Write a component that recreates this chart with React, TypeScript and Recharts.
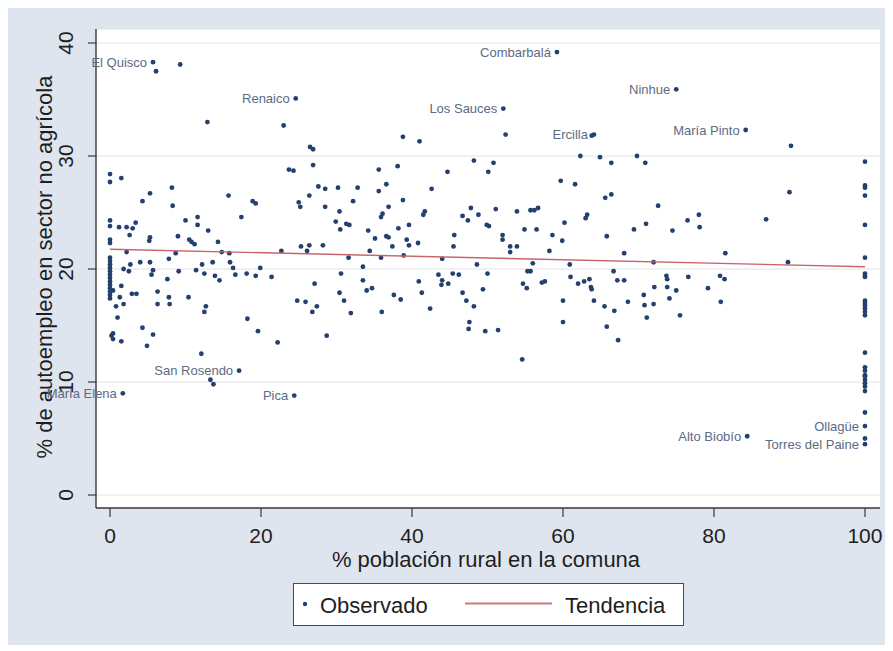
import React from 'react';
import { ScatterChart, Scatter, XAxis, YAxis, CartesianGrid, Legend, LabelList, Label } from 'recharts';

// ---- data (x = % población rural, y = % autoempleo en sector no agrícola) ----
const X_TICKS = [0, 20, 40, 60, 80, 100];
const Y_TICKS = [0, 10, 20, 30, 40];

const LABEL_NAMES = ['El Quisco', 'Combarbalá', 'Renaico', 'Los Sauces', 'Ninhue', 'Ercilla', 'María Pinto', 'San Rosendo', 'María Elena', 'Pica', 'Alto Biobío', 'Ollagüe', 'Torres del Paine'];
const LABEL_X = [5.7, 59.2, 24.6, 52.1, 75.0, 64.1, 84.2, 17.1, 1.7, 24.4, 84.4, 100, 100];
const LABEL_Y = [38.3, 39.2, 35.1, 34.2, 35.9, 31.9, 32.3, 11.0, 9.0, 8.8, 5.2, 6.1, 4.5];

const OBS_TOP: [number, number][] = [
  [6.1, 37.5], [9.3, 38.1], [12.9, 33.0], [23.0, 32.7], [38.8, 31.7], [41.0, 31.3], [26.5, 30.8], [26.9, 30.6],
  [52.4, 31.9], [63.8, 31.8], [90.2, 30.9], [13.3, 10.2], [13.7, 9.8],
];

const OBS_URBAN_EDGE_Y = [28.4, 27.7, 24.3, 23.8, 22.6, 22.3, 21.0, 20.7, 20.4, 20.1, 19.8, 19.5, 19.2, 18.9, 18.6, 18.3, 18.0, 17.7, 17.4];
const OBS_RURAL_EDGE_Y = [29.5, 27.4, 27.2, 26.5, 23.9, 21.0, 19.6, 19.4, 19.3, 17.2, 17.0, 16.8, 16.5, 16.2, 15.9, 12.6, 11.3, 11.0, 10.6, 10.5, 10.2, 9.9, 9.6, 9.2, 7.3, 5.0];

const OBS_LEFT: [number, number][] = [
  [1.5, 28.05], [4.3, 26.0], [5.3, 26.7], [8.2, 27.2], [8.3, 25.6], [15.7, 26.5], [18.9, 26.0], [19.3, 25.8], [17.4, 24.6],
  [23.7, 28.8], [24.3, 28.7], [26.9, 29.2], [25.0, 25.9], [25.2, 25.5], [26.4, 26.5], [27.6, 27.3], [28.5, 27.1], [28.5, 25.5],
  [30.2, 27.2], [30.4, 25.1], [29.9, 24.2], [30.5, 23.5], [31.3, 24.0], [31.7, 23.9], [32.2, 26.0], [32.8, 27.2], [35.6, 28.8],
  [35.6, 26.9], [36.6, 27.5], [38.1, 29.1], [38.8, 26.1], [36.9, 25.5], [36.1, 24.9], [35.9, 24.6], [42.6, 27.1], [44.7, 28.6],
  [48.2, 29.6], [50.1, 28.6], [41.7, 25.1], [41.5, 24.8], [46.7, 24.7], [47.8, 25.4], [47.4, 24.3], [48.8, 24.8], [49.9, 23.9],
  [10.0, 24.3], [11.6, 24.6], [11.6, 23.9], [13.0, 23.4], [1.2, 23.7], [2.2, 23.7], [3.0, 23.6], [3.4, 24.1], [2.6, 23.0],
  [5.3, 22.8], [5.2, 22.5], [9.0, 22.9], [10.5, 22.6], [10.8, 22.4], [11.2, 22.2], [14.3, 22.4], [2.2, 21.5], [8.7, 21.4],
  [7.8, 20.9], [4.0, 20.6], [5.3, 20.6], [2.7, 20.4], [1.8, 20.0], [2.5, 19.8], [5.7, 19.9], [5.5, 19.5], [7.6, 19.1],
  [9.1, 19.8], [11.4, 19.9], [12.2, 20.4], [12.5, 19.6], [13.6, 20.6], [13.9, 19.4], [14.5, 19.0], [14.8, 21.5], [15.8, 21.4],
  [15.9, 20.6], [16.3, 20.1], [16.6, 19.5], [18.1, 19.6], [19.3, 19.4], [19.9, 20.1], [21.4, 19.3], [22.7, 21.6], [25.3, 22.0],
  [26.4, 22.1], [26.1, 21.6], [28.2, 22.1], [31.6, 21.0], [34.4, 21.6], [35.9, 21.0], [35.1, 22.7], [34.2, 23.4], [36.6, 22.9],
  [36.9, 22.8], [37.4, 22.0], [38.2, 23.6], [39.6, 23.9], [39.3, 22.6], [39.6, 22.1], [40.8, 22.3], [38.9, 21.2], [45.6, 23.0],
  [45.5, 22.0], [44.0, 20.9], [50.2, 23.8], [48.6, 20.4], [30.6, 19.6], [33.5, 20.2], [33.5, 19.0], [34.0, 18.1], [34.7, 18.3],
  [27.1, 18.7], [30.4, 17.9], [31.0, 17.2], [31.9, 16.1], [36.0, 16.2], [37.6, 17.7], [38.5, 17.3], [40.9, 18.9], [41.3, 17.9],
  [42.4, 16.5], [43.5, 19.5], [44.0, 19.0], [43.9, 18.6], [44.8, 18.7], [45.4, 19.6], [46.2, 19.5], [46.7, 17.9], [47.2, 17.2],
  [48.2, 16.7], [47.6, 15.3], [47.5, 14.7], [49.7, 14.5], [50.0, 19.6], [49.4, 18.2], [24.8, 17.2], [25.9, 17.1], [26.8, 16.2],
  [27.4, 16.7], [28.7, 14.1], [22.2, 13.5], [19.6, 14.5], [18.2, 15.6], [12.1, 12.5], [4.3, 14.8], [5.7, 14.2], [4.9, 13.2],
  [0.4, 14.3], [0.2, 14.1], [0.4, 13.8], [1.5, 13.6], [1.0, 15.7], [0.8, 16.7], [1.8, 16.9], [1.3, 17.5], [1.5, 18.5],
  [2.9, 17.8], [3.5, 17.8], [6.3, 16.9], [6.3, 18.0], [7.9, 16.9], [7.8, 17.5], [10.4, 17.5], [12.7, 16.7], [12.5, 16.2],
  [0.4, 18.1],
];

const OBS_RIGHT: [number, number][] = [
  [90.0, 26.8], [86.9, 24.4], [89.8, 20.6], [81.5, 21.4], [62.3, 30.0], [64.9, 29.9], [66.4, 29.4], [69.8, 30.0], [70.9, 29.4],
  [50.8, 29.4], [59.7, 27.8], [61.6, 27.5], [65.6, 26.3], [66.4, 26.6], [51.1, 25.3], [53.9, 25.1], [55.7, 25.2], [56.2, 25.2],
  [56.7, 25.4], [72.6, 25.6], [76.5, 24.3], [78.0, 24.8], [78.1, 23.7], [60.2, 24.1], [63.0, 24.5], [63.2, 24.8], [71.0, 24.0],
  [54.9, 23.5], [56.5, 23.5], [52.0, 23.0], [52.0, 22.6], [53.0, 22.0], [53.9, 22.0], [53.0, 21.5], [58.6, 23.0], [59.9, 22.5],
  [58.2, 21.6], [65.8, 22.9], [69.4, 23.5], [74.5, 23.4], [68.1, 21.4], [72.0, 20.6], [56.0, 20.5], [60.9, 20.4], [55.3, 19.8],
  [55.7, 19.8], [54.7, 18.7], [55.2, 18.3], [57.2, 18.8], [57.6, 18.9], [61.0, 19.3], [62.0, 18.7], [62.8, 18.9], [63.5, 19.1],
  [63.7, 18.4], [63.8, 18.2], [66.7, 19.8], [67.2, 19.0], [68.1, 19.0], [73.7, 19.4], [73.8, 19.1], [72.1, 18.4], [73.8, 18.4],
  [75.0, 18.1], [76.6, 19.3], [79.2, 18.3], [80.8, 19.4], [81.4, 19.1], [80.9, 17.1], [74.1, 17.4], [75.5, 15.9], [70.7, 17.7],
  [70.8, 16.8], [71.1, 15.7], [72.0, 16.9], [68.6, 17.1], [66.8, 16.3], [65.5, 16.7], [64.1, 17.2], [60.0, 17.2], [60.0, 15.3],
  [65.8, 14.9], [67.3, 13.7], [51.4, 14.6], [54.6, 12.0],
];

const TREND_X = [0, 100];
const TREND_Y = [21.75, 20.2];

// ---- build series ----
const observed = [
  ...LABEL_NAMES.map((name, i) => ({ x: LABEL_X[i], y: LABEL_Y[i], name })),
  ...OBS_TOP.map(([x, y]) => ({ x, y })),
  ...OBS_URBAN_EDGE_Y.map((y) => ({ x: 0, y })),
  ...OBS_RURAL_EDGE_Y.map((y) => ({ x: 100, y })),
  ...OBS_LEFT.map(([x, y]) => ({ x, y })),
  ...OBS_RIGHT.map(([x, y]) => ({ x, y })),
];
const trend = TREND_X.map((x, i) => ({ x, y: TREND_Y[i] }));

const FONT = '"Liberation Sans", Arial, Helvetica, sans-serif';
const DOT = '#24406f';
const TREND_COLOR = '#c8636b';
const TEXT = '#1e1e1e';
const LABEL_COLOR = '#5b6b84';
const AXIS = '#3a3a3a';

const Dot = (p: any) => <circle cx={p.cx} cy={p.cy} r={2.4} fill={DOT} />;
const NoDot = () => <g />;

const PointLabel = (p: any) => {
  if (!p.value) return null;
  const vb = p.viewBox || {};
  const x = (vb.x ?? p.x) + (vb.width ?? p.width ?? 0) / 2;
  const y = (vb.y ?? p.y) + (vb.height ?? p.height ?? 0) / 2;
  return (
    <text x={x - 6} y={y + 4.5} textAnchor="end" fontSize={13} fill={LABEL_COLOR} fontFamily={FONT}>
      {p.value}
    </text>
  );
};

const XTick = (p: any) => (
  <text x={p.x} y={p.y + 24} textAnchor="middle" fontSize={21} fill={TEXT} fontFamily={FONT}>
    {p.payload.value}
  </text>
);

const YTick = (p: any) => {
  const bx = p.x - 13;
  return (
    <text x={bx} y={p.y} transform={`rotate(-90 ${bx} ${p.y})`} textAnchor="middle" fontSize={21} fill={TEXT} fontFamily={FONT}>
      {p.payload.value}
    </text>
  );
};

const XTitle = (p: any) => {
  const vb = p.viewBox || { x: 88, y: 502, width: 784 };
  return (
    <text x={vb.x + vb.width / 2 - 2} y={vb.y + 59} textAnchor="middle" fontSize={22} fill={TEXT} fontFamily={FONT}>
      % población rural en la comuna
    </text>
  );
};

const YTitle = (p: any) => {
  const vb = p.viewBox || { x: 0, y: 23, height: 479 };
  const bx = 44;
  const cy = vb.y + vb.height / 2 - 1.5;
  return (
    <text x={bx} y={cy} transform={`rotate(-90 ${bx} ${cy})`} textAnchor="middle" fontSize={22} fill={TEXT} fontFamily={FONT}>
      % de autoempleo en sector no agrícola
    </text>
  );
};

const LegendBox = () => (
  <svg width={392} height={44} style={{ display: 'block' }}>
    <rect x={0.5} y={0.5} width={390} height={42} fill="#ffffff" stroke="#4a4a4a" strokeWidth={1} />
    <circle cx={12} cy={21} r={2.2} fill={DOT} />
    <text x={27} y={30} fontSize={22} fill={TEXT} fontFamily={FONT}>Observado</text>
    <line x1={172} x2={259} y1={20.5} y2={20.5} stroke="#cc7a82" strokeWidth={2} />
    <text x={272} y={30} fontSize={22} fill={TEXT} fontFamily={FONT}>Tendencia</text>
  </svg>
);

export default function App() {
  return (
    <div style={{ width: 885, height: 639, marginTop: -2, background: '#dfe5ee', position: 'relative', fontFamily: FONT }}>
      <ScatterChart width={885} height={639} margin={{ top: 23, right: 13, bottom: 77, left: 0 }}>
        <CartesianGrid vertical={false} fill="#ffffff" stroke="#e2e2e2" strokeWidth={1} />
        <XAxis
          type="number"
          dataKey="x"
          domain={[-1.854, 101.99]}
          ticks={X_TICKS}
          height={60}
          tickSize={9}
          axisLine={{ stroke: AXIS, strokeWidth: 1.4 }}
          tickLine={{ stroke: AXIS, strokeWidth: 1.2 }}
          tick={<XTick />}
          interval={0}
        >
          <Label content={<XTitle />} />
        </XAxis>
        <YAxis
          type="number"
          dataKey="y"
          domain={[-1.15, 41.24]}
          ticks={Y_TICKS}
          width={88}
          tickSize={8}
          axisLine={{ stroke: AXIS, strokeWidth: 1.4 }}
          tickLine={{ stroke: AXIS, strokeWidth: 1.2 }}
          tick={<YTick />}
          interval={0}
        >
          <Label content={<YTitle />} />
        </YAxis>
        <Legend
          verticalAlign="middle"
          align="center"
          layout="horizontal"
          content={<LegendBox />}
          wrapperStyle={{ top: 577, left: 285, width: 392, height: 44 }}
        />
        <Scatter name="Observado" data={observed} shape={<Dot />} isAnimationActive={false}>
          <LabelList dataKey="name" content={<PointLabel />} />
        </Scatter>
        <Scatter
          name="Tendencia"
          data={trend}
          line={{ stroke: TREND_COLOR, strokeWidth: 1.4 }}
          shape={<NoDot />}
          isAnimationActive={false}
        />
      </ScatterChart>
    </div>
  );
}
